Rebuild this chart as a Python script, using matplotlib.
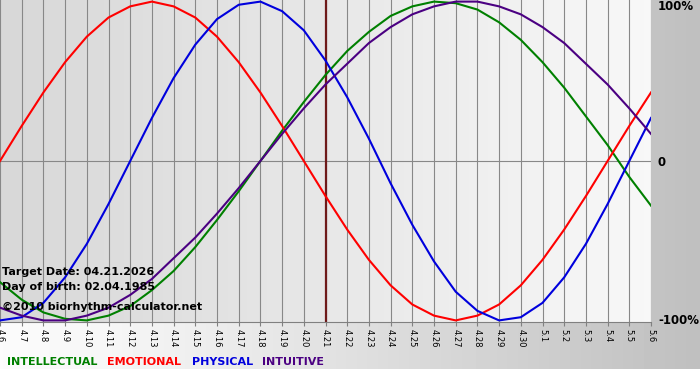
import numpy as np
import matplotlib
matplotlib.use("Agg")
import matplotlib.pyplot as plt
from matplotlib.colors import LinearSegmentedColormap

# Day labels (month.day), 4.6 .. 5.6
days = ["4.6", "4.7", "4.8", "4.9", "4.10", "4.11", "4.12", "4.13", "4.14", "4.15",
        "4.16", "4.17", "4.18", "4.19", "4.20", "4.21", "4.22", "4.23", "4.24", "4.25",
        "4.26", "4.27", "4.28", "4.29", "4.30", "5.1", "5.2", "5.3", "5.4", "5.5", "5.6"]
target_day = "4.21"

# Cycle values per day (fraction of 100%)
intellectual = [-0.76, -0.87, -0.95, -0.99, -1.00, -0.97, -0.91, -0.81, -0.69, -0.54,
                -0.37, -0.19, 0.00, 0.19, 0.37, 0.54, 0.69, 0.81, 0.91, 0.97,
                1.00, 0.99, 0.95, 0.87, 0.76, 0.62, 0.46, 0.28, 0.10, -0.10, -0.28]
emotional = [0.00, 0.22, 0.43, 0.62, 0.78, 0.90, 0.97, 1.00, 0.97, 0.90,
             0.78, 0.62, 0.43, 0.22, 0.00, -0.22, -0.43, -0.62, -0.78, -0.90,
             -0.97, -1.00, -0.97, -0.90, -0.78, -0.62, -0.43, -0.22, 0.00, 0.22, 0.43]
physical = [-1.00, -0.98, -0.89, -0.73, -0.52, -0.27, 0.00, 0.27, 0.52, 0.73,
            0.89, 0.98, 1.00, 0.94, 0.82, 0.63, 0.40, 0.14, -0.14, -0.40,
            -0.63, -0.82, -0.94, -1.00, -0.98, -0.89, -0.73, -0.52, -0.27, 0.00, 0.27]
intuitive = [-0.92, -0.97, -1.00, -1.00, -0.97, -0.92, -0.84, -0.74, -0.61, -0.48,
             -0.33, -0.17, 0.00, 0.17, 0.33, 0.48, 0.61, 0.74, 0.84, 0.92,
             0.97, 1.00, 1.00, 0.97, 0.92, 0.84, 0.74, 0.61, 0.48, 0.33, 0.17]

series = [("INTELLECTUAL", intellectual, "#008000"),
          ("EMOTIONAL", emotional, "#ff0000"),
          ("PHYSICAL", physical, "#0000dd"),
          ("INTUITIVE", intuitive, "#4b0082")]

W, H = 700, 380
fig = plt.figure(figsize=(W / 100, H / 100), dpi=100)
fig.patch.set_facecolor("white")

# page background: horizontal gradient, white strip at the very bottom
bg = fig.add_axes([0, 0, 1, 1], zorder=0)
bg.set_xlim(0, W)
bg.set_ylim(H, 0)
bg.axis("off")
gx = np.linspace(0, W, 200)
shade = np.interp(gx, [0, 110, W], [0.985, 0.965, 0.75])
bg.imshow(np.tile(shade, (2, 1)), cmap="gray", vmin=0, vmax=1,
          extent=(0, W, 369, 0), aspect="auto")

# plot area
ax = fig.add_axes([0, 58 / H, 651 / W, 322 / H], zorder=1)
x = np.arange(len(days))
ax.set_xlim(0, len(days) - 1)
ax.set_ylim(-1.01, 1.01)

grad = LinearSegmentedColormap.from_list("bg", ["#d8d8d8", "#f8f8f8"])
ax.imshow(np.linspace(0, 1, 100)[None, :], cmap=grad, aspect="auto",
          extent=(0, len(days) - 1, -1.01, 1.01), zorder=0)

for xi in x:
    ax.axvline(xi, color="#888888", lw=0.8, zorder=1)
ax.axhline(0, color="#888888", lw=0.8, zorder=1)
ax.axvline(days.index(target_day), color="#6e1a1a", lw=1.6, zorder=2)

for name, vals, col in series:
    ax.plot(x, vals, color=col, lw=1.5, zorder=3, solid_joinstyle="round")

ax.set_xticks(x)
ax.set_xticklabels(days, rotation=270, fontsize=6, va="top", ha="center")
ax.tick_params(axis="x", length=3, color="#808080", pad=2)
ax.set_yticks([])
for s in ["top", "left", "right"]:
    ax.spines[s].set_visible(False)
ax.spines["bottom"].set_color("#808080")

def fy(py):
    return 1 - py / H

# right side percentage labels
for txt, py in [("100%", 7), ("0", 162), ("-100%", 321)]:
    fig.text(658 / W, fy(py), txt, ha="left", va="center",
             fontsize=8.5, fontweight="bold", color="black", zorder=5)

# info block
info = [("Target Date: 04.21.2026", 272), ("Day of birth: 02.04.1985", 287),
        ("\u00a92010 biorhythm-calculator.net", 307)]
for txt, py in info:
    fig.text(2 / W, fy(py), txt, ha="left", va="center", fontsize=8,
             fontweight="bold", color="black", zorder=5)

# legend words
leg_x = [7, 107, 192, 262]
for (name, _, col), lx in zip(series, leg_x):
    fig.text(lx / W, fy(362), name, ha="left", va="center", fontsize=8,
             fontweight="bold", color=col, zorder=5)

fig.savefig("out.png", dpi=100)
